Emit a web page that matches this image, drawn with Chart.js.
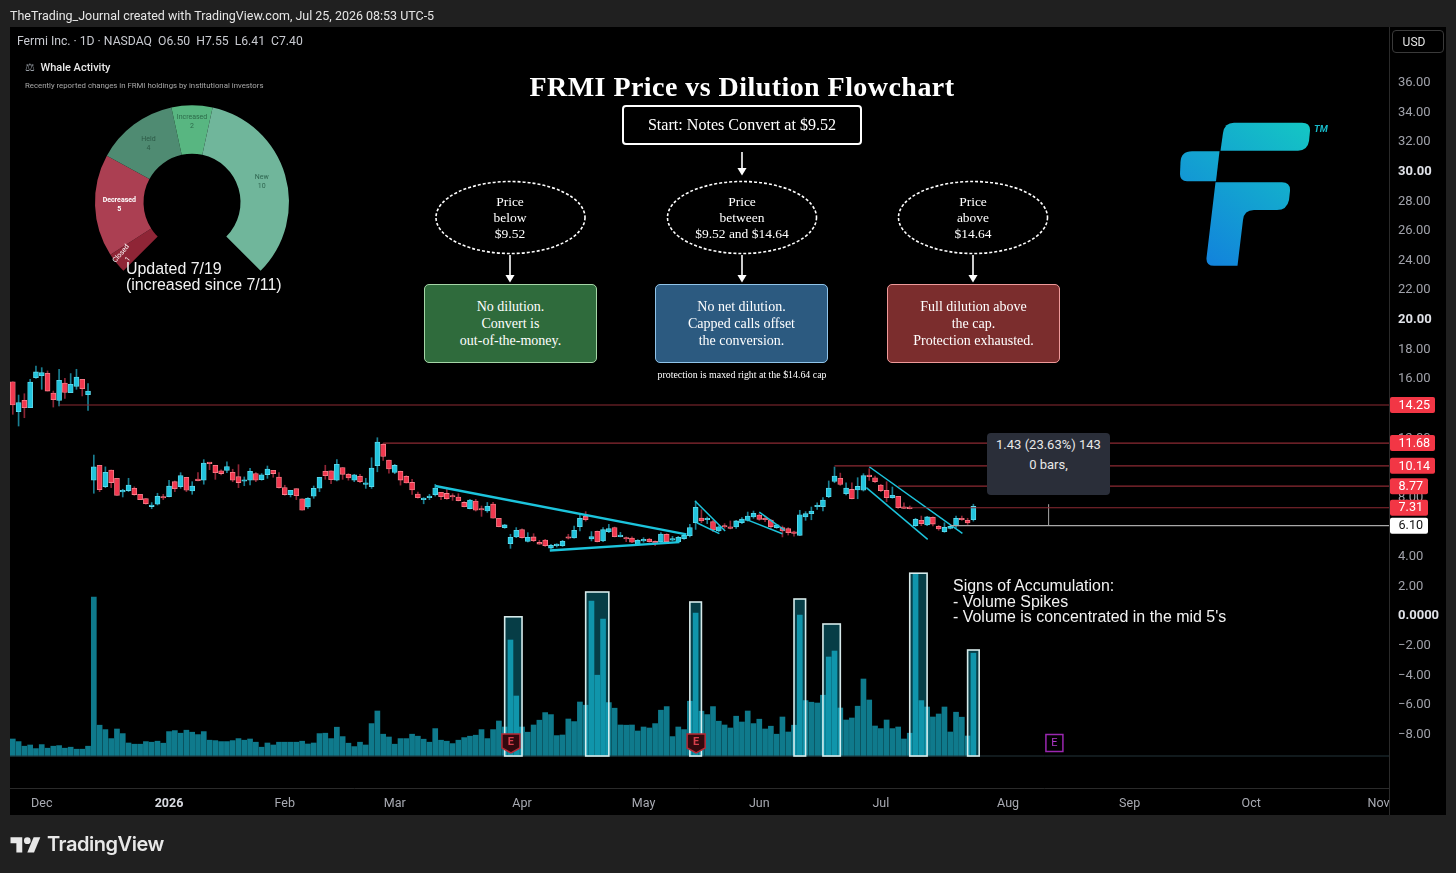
<!DOCTYPE html>
<html>
<head>
<meta charset="utf-8">
<title>FRMI Price vs Dilution Flowchart</title>
<script src="https://cdn.jsdelivr.net/npm/chart.js@4"></script>
<style>
html, body { margin: 0; padding: 0; background: #202020; width: 1456px; height: 873px; overflow: hidden; font-family: Roboto, sans-serif; color: #fff; }
#main { position: absolute; left: 0; top: 0; }
#whale { position: absolute; left: 82px; top: 78px; }
.abs { position: absolute; white-space: nowrap; }
.serif { font-family: "Liberation Serif", serif; text-align: center; }
.note { font-family: "Liberation Sans", sans-serif; font-size: 15.95px; line-height: 15.5px; }
.flowbox { position: absolute; box-sizing: border-box; width: 173px; height: 79px; top: 284px; border-radius: 5px; border: 1.5px solid; font-family: "Liberation Serif", serif; font-size: 14px; line-height: 17px; text-align: center; padding-top: 13px; }
.oval { position: absolute; box-sizing: border-box; width: 150px; height: 73px; top: 181px; font-family: "Liberation Serif", serif; font-size: 13.5px; line-height: 16px; text-align: center; padding-top: 13px; }
</style>
</head>
<body>
<canvas id="main" width="1456" height="873"></canvas>
<canvas id="whale" width="220" height="220"></canvas>

<div class="abs" style="left:10px;top:8px;font-size:12.47px;color:#e6e6e6">TheTrading_Journal created with TradingView.com, Jul 25, 2026 08:53 UTC-5</div>
<div class="abs" style="left:17px;top:34px;font-size:12.2px;color:#c8cad0">Fermi Inc. · 1D · NASDAQ &nbsp;O6.50 &nbsp;H7.55 &nbsp;L6.41 &nbsp;C7.40</div>
<div class="abs" style="left:1392px;top:30px;width:52px;height:23px;box-sizing:border-box;border:1px solid #3a3a3a;border-radius:4px;font-size:12px;line-height:22px;text-align:center;padding-right:8px;color:#e4e4e4">USD</div>

<div class="abs" style="left:25px;top:61px;font-size:11px;font-weight:500;color:#e8e8e8"><span style="color:#9aa0a8">⚖</span>&nbsp; Whale Activity</div>
<div class="abs" style="left:25px;top:81px;font-size:7.8px;color:#a8a8a8">Recently reported changes in FRMI holdings by institutional investors</div>
<div class="abs note" style="left:126px;top:261px;color:#f2f2f2">Updated 7/19<br>(increased since 7/11)</div>

<div class="abs serif" style="left:442px;width:600px;top:71px;font-size:28px;font-weight:bold;letter-spacing:0.45px">FRMI Price vs Dilution Flowchart</div>
<div class="abs serif" style="left:622px;top:105px;width:240px;height:40px;box-sizing:border-box;border:2px solid #fff;border-radius:4px;font-size:16.1px;line-height:35px">Start: Notes Convert at $9.52</div>

<div class="oval" style="left:435px">Price<br>below<br>$9.52</div>
<div class="oval" style="left:667px">Price<br>between<br>$9.52 and $14.64</div>
<div class="oval" style="left:898px">Price<br>above<br>$14.64</div>

<div class="flowbox" style="left:424px;background:#2f6b3c;border-color:#a5d6a7">No dilution.<br>Convert is<br>out-of-the-money.</div>
<div class="flowbox" style="left:655px;background:#2c5a80;border-color:#90c4ea">No net dilution.<br>Capped calls offset<br>the conversion.</div>
<div class="flowbox" style="left:887px;background:#7b2d2d;border-color:#ef9a9a">Full dilution above<br>the cap.<br>Protection exhausted.</div>
<div class="abs serif" style="left:592px;width:300px;top:369px;font-size:9.9px">protection is maxed right at the $14.64 cap</div>

<svg class="abs" style="left:0;top:0" width="1456" height="873">
  <defs>
    <linearGradient id="fgrad" gradientUnits="userSpaceOnUse" x1="1205" y1="265" x2="1310" y2="125">
      <stop offset="0" stop-color="#1282dc"/>
      <stop offset="1" stop-color="#14c6c4"/>
    </linearGradient>
    <marker id="head" markerWidth="6" markerHeight="6" refX="4" refY="3" orient="auto">
      <path d="M0,0 L5,3 L0,6 Z" fill="#fff"/>
    </marker>
  </defs>
  <g fill="none" stroke="#fff" stroke-width="1.6" stroke-dasharray="3 2">
    <ellipse cx="510.5" cy="217.5" rx="74.5" ry="36"/>
    <ellipse cx="742" cy="217.5" rx="74.5" ry="36"/>
    <ellipse cx="973" cy="217.5" rx="74.5" ry="36"/>
  </g>
  <g stroke="#fff" stroke-width="1.6" marker-end="url(#head)">
    <line x1="742" y1="152" x2="742" y2="174"/>
    <line x1="510" y1="255" x2="510" y2="281"/>
    <line x1="742" y1="255" x2="742" y2="281"/>
    <line x1="973" y1="255" x2="973" y2="281"/>
  </g>
  <g fill="url(#fgrad)">
    <path d="M1220.5 150.7 L1223 133 Q1224.5 122.7 1234 122.7 L1302 122.7 Q1310.5 122.7 1310 131 L1309 141 Q1307.5 150.7 1298 150.7 Z"/>
    <path d="M1219.5 151.3 L1216 181.3 L1187 181.3 Q1180 181.3 1180 174 L1180.5 162 Q1181 151.3 1192 151.3 Z"/>
    <path d="M1215.5 182.3 L1282 182.3 Q1290.5 182.3 1290 191 L1289 200 Q1287 210 1277 210 L1254 210 Q1244 210 1243 220 L1237.5 265.7 L1214 265.7 Q1206 265.7 1206.5 258 Z"/>
  </g>
  <text x="1314" y="132" font-family="Roboto" font-size="9.5" font-weight="700" font-style="italic" fill="#17b9c8">TM</text>
  <g transform="translate(10.5,834) scale(0.84)" fill="#e8e8e8">
    <path d="M14 22H7V11H0V4h14v18z"/>
    <path d="M28 22h-8l7.5-18h8L28 22z"/>
    <circle cx="20" cy="8" r="4"/>
  </g>
  <text x="47" y="851" font-family="Inter" font-size="20" font-weight="600" letter-spacing="-0.45" fill="#e8e8e8">TradingView</text>
</svg>

<div class="abs" style="left:987px;top:433px;width:123px;height:62px;background:#2a2e39;border-radius:4px;font-size:13px;text-align:center;color:#e8e8e8;line-height:20px;padding-top:2px;box-sizing:border-box">1.43 (23.63%) 143<br>0 bars,</div>
<div class="abs note" style="left:953px;top:578px;color:#f2f2f2">Signs of Accumulation:<br>- Volume Spikes<br>- Volume is concentrated in the mid 5's</div>

<script>
// --- Daily bars (bar 0 = late Nov 2025, bar 166 = Jul 24 2026) ---
const opens = [15.82,13.80,14.56,14.07,16.09,16.23,16.39,15.06,14.56,15.73,15.08,15.51,15.98,14.95,9.17,10.18,8.74,9.86,9.30,8.38,8.47,8.63,8.22,7.93,7.39,7.55,8.04,8.06,9.07,8.74,9.37,8.45,9.19,9.17,10.33,10.18,9.80,9.84,9.70,9.41,9.10,9.17,9.62,9.21,9.55,9.84,9.39,8.67,8.20,8.60,7.91,7.37,8.09,8.63,9.77,9.80,9.17,10.02,9.57,9.17,9.44,8.89,8.73,10.15,11.59,10.53,9.70,9.77,9.43,9.02,8.24,7.86,7.99,8.19,8.35,8.28,8.08,8.04,7.67,7.25,7.77,7.20,7.09,7.56,6.60,5.97,4.88,5.34,5.83,5.04,5.34,4.98,5.13,4.59,4.75,4.75,5.29,5.27,6.03,6.73,5.20,5.72,5.07,5.70,5.97,5.36,5.25,5.27,4.84,5.07,5.20,5.04,5.00,5.52,5.13,5.02,5.22,5.43,6.30,6.62,6.50,6.37,5.74,6.06,6.01,6.01,6.30,6.46,6.69,6.82,6.57,6.48,5.97,5.97,5.90,5.65,5.45,6.69,6.91,7.38,7.38,8.06,9.09,9.30,8.26,8.55,8.51,8.49,9.48,9.34,8.85,8.49,7.99,8.08,7.34,7.32,6.10,6.46,6.15,6.66,6.06,5.70,5.92,6.08,6.55,6.46,6.50];
const highs = [15.82,14.92,15.01,15.98,16.88,16.77,16.55,15.19,16.66,16.05,16.37,16.66,15.98,15.69,10.87,10.18,10.07,9.86,9.30,8.56,9.30,8.72,8.22,7.93,7.66,8.29,8.22,9.17,9.12,9.68,9.37,9.07,9.68,10.56,10.33,10.18,9.88,10.42,9.91,10.22,9.39,9.97,9.68,9.62,10.13,9.84,9.68,8.83,8.49,8.60,7.91,7.99,8.78,9.37,10.18,9.80,10.56,10.02,9.62,9.57,9.57,9.30,10.69,12.04,11.64,10.53,10.24,9.79,9.48,9.23,8.37,7.99,8.22,8.89,8.35,8.55,8.26,8.26,7.72,7.88,7.88,7.43,7.67,7.67,6.60,6.19,5.52,5.97,5.88,5.63,5.56,5.11,5.18,4.84,4.88,5.11,5.52,6.08,6.87,7.05,5.70,5.74,5.97,6.19,6.01,5.65,5.34,5.34,5.16,5.29,5.25,5.07,5.63,5.56,5.38,5.38,5.52,6.19,7.77,7.18,6.69,6.46,6.08,6.24,6.42,6.46,6.64,7.02,7.09,6.91,6.75,6.53,6.19,6.08,5.97,5.74,7.14,7.05,7.36,7.65,7.99,9.12,10.06,9.65,9.00,9.00,9.34,9.61,9.95,9.45,8.89,9.07,8.71,8.08,7.65,7.43,6.60,6.75,6.73,6.69,6.12,6.30,6.10,6.75,6.75,6.60,7.55];
const lows = [13.62,12.83,13.39,14.07,16.05,15.31,15.19,14.11,14.18,14.70,15.08,15.31,14.86,13.89,8.29,8.40,8.67,8.67,8.15,8.04,8.40,8.15,7.86,7.55,7.25,7.50,7.86,8.04,8.40,8.63,8.40,8.22,9.12,8.90,9.88,9.23,9.53,9.68,9.07,8.67,8.80,8.85,9.07,9.17,9.30,9.37,8.63,8.15,8.04,7.86,7.14,7.27,7.95,8.40,9.23,8.94,9.12,9.23,9.17,9.07,9.01,8.62,8.62,9.74,10.51,9.65,9.61,8.84,8.98,8.21,7.95,7.58,7.86,8.10,7.86,7.88,7.81,7.77,7.36,7.24,7.09,6.73,7.00,6.60,6.01,5.92,4.57,5.29,5.25,5.00,5.02,4.84,4.70,4.55,4.66,4.70,5.20,5.25,5.74,6.41,5.07,5.00,5.02,5.63,5.34,5.34,5.02,4.95,4.80,4.98,4.98,4.75,4.95,4.98,5.07,4.98,5.18,5.34,5.85,6.30,6.24,5.70,5.70,5.92,5.88,5.92,6.24,6.41,6.60,6.46,6.37,5.92,5.92,5.34,5.47,5.40,5.43,6.46,6.50,7.20,7.09,7.99,9.00,8.82,8.17,7.90,7.92,8.44,9.16,9.00,8.40,7.72,7.95,7.27,7.27,7.23,6.05,6.10,6.10,6.08,5.79,5.65,5.88,5.97,6.46,6.19,6.41];
const closes = [14.25,14.41,14.07,15.80,16.48,16.43,15.19,14.61,15.91,15.10,15.64,16.14,15.35,15.19,10.07,8.53,9.70,9.01,8.15,8.45,8.85,8.20,7.86,7.59,7.50,8.09,7.97,8.78,8.60,9.48,8.49,8.78,9.14,10.33,10.29,9.68,9.62,10.09,9.17,9.01,9.19,9.77,9.17,9.53,9.93,9.62,8.67,8.20,8.49,8.13,7.14,7.95,8.63,9.37,9.48,9.21,10.24,9.57,9.32,9.53,9.07,8.98,9.99,11.75,10.78,9.93,10.17,9.18,8.98,8.51,7.99,7.95,8.04,8.64,8.06,7.92,8.04,7.79,7.38,7.83,7.14,7.16,7.41,6.60,6.03,6.15,5.31,5.79,5.29,5.31,5.09,4.86,4.75,4.77,4.82,5.04,5.25,5.79,6.60,6.50,5.36,5.02,5.83,5.90,5.36,5.40,5.20,4.98,5.11,5.13,5.02,4.88,5.54,5.02,5.18,5.31,5.45,5.97,7.34,6.42,6.57,5.81,6.03,6.01,5.92,6.42,6.55,6.75,6.93,6.53,6.50,6.03,6.15,5.74,5.63,5.58,6.84,6.91,7.09,7.45,7.83,8.64,9.45,8.89,8.64,7.92,8.75,9.48,9.41,9.07,8.46,7.99,8.15,7.32,7.27,7.25,6.53,6.24,6.69,6.21,5.88,5.99,6.06,6.60,6.50,6.28,7.40];
// shares traded, in millions
const volumes = [8.5,7.2,4.9,5.5,3.7,5.7,3.9,4.9,5.2,3.9,4.4,3.4,3.4,4.9,79.5,15.4,13.2,8.7,13.5,11.2,6.5,5.9,5.9,7.2,6.9,7.4,6.4,12.2,12.7,11.4,12.9,11.9,10.7,12.2,7.9,7.7,7.2,7.2,7.7,8.7,7.9,8.5,6.9,4.4,6.5,5.5,6.9,6.9,6.9,6.9,7.4,6,6.5,11.2,11.4,8.7,14.4,9.7,6.4,4.7,6.9,5.5,16.2,22.5,10.9,9.5,5.9,8.7,8.7,10.9,9.9,8.4,6.9,13.7,7.9,7.4,6.2,7.9,9.2,9.9,10.4,13.2,8.7,13.2,17.5,14.5,58,30,14.5,11.9,15.5,17.9,21.7,20.7,10.2,10.5,18.5,17.2,27,25.4,77.4,40.4,68.4,26.7,23.9,15.5,15.4,15.5,12.5,14.5,14,16.2,22.9,24.7,9.7,14.5,13.2,27.4,71.4,22.4,20.7,24.7,17.4,15.5,14,19.9,17,22.5,16.2,18.4,13.5,14.9,10.9,19.5,12,15.4,70.5,27.7,26.9,26.5,30.4,49.5,52.5,24,18,19,24.9,38.5,28,15,13.7,18,13.7,14.5,8.5,11.4,91,27.7,24.5,19.5,21,24.5,12,21.9,19.4,10,51.4];

// --- Axes ---
const priceTicks = [36,34,32,30,28,26,24,22,20,18,16,14,12,10,8,6,4,2,0,-2,-4,-6,-8];
const boldPrices = [30,20,0];
const monthBars = [5,27,47,66,88,109,129,150,172,193,214,236];
const monthLabels = ['Dec','2026','Feb','Mar','Apr','May','Jun','Jul','Aug','Sep','Oct','Nov'];

// --- Drawings on the chart ---
const levelPrices = [14.25,11.68,10.14,8.77,7.31];
const levelStart = [8,64,142,153,155];
const lastPrice = 6.10;
const lastStart = 162;
const measureBar = 179;
const measureTop = 7.55;
// [bar, price, bar, price]
const trendLines = [[73,8.78,116.4,5.51],[92.8,4.43,115.2,4.99]];
const flagLines = [[117.9,7.77,123.1,5.74],[118.2,6.30,122.1,5.56],[129,7.02,133.4,5.79],[126.7,6.53,133,5.56],[148,10.08,164.1,5.58],[147.5,8.67,158.1,5.18]];
const spikeStart = [85,99,117,135,140,155,165];
const spikeEnd = [88,103,119,137,143,158,167];
const spikeTop = [69.6,82,77,78.5,66,91.4,53];
const pastEarnings = [86,118];
const nextEarnings = [180];

// --- Whale Activity ---
const whaleLabels = ['Closed','Decreased','Held','Increased','New'];
const whaleCounts = [1,5,4,2,10];
const whaleColors = ['#8f2536','#ab3f52','#4f8b72','#58b681','#70b69b'];
const whaleText = ['#fff','#fff','#2d5a47','#2d6b4a','#2f6650'];

const barIdx = closes.map((c, i) => i);
const isUp = i => closes[i] >= opens[i];
const isBoldMonth = c => c.tick && monthLabels[monthBars.indexOf(c.tick.value)] === '2026';
const isBoldPrice = c => c.tick && boldPrices.includes(c.tick.value);

const lineSet = (pts, color, width) => ({
    type: 'line',
    data: pts,
    borderColor: color,
    borderWidth: width,
    pointRadius: 0,
    order: 0,
    xAxisID: 'x',
    yAxisID: 'y'
});

const datasets = [];
// volume first, candles on top
datasets.push({
    data: barIdx.map(i => ({ x: i, y: volumes[i] })),
    backgroundColor: '#0f7a8c',
    barThickness: 5,
    yAxisID: 'yVol',
    order: 5
});
datasets.push({
    data: barIdx.map(i => ({ x: i, y: [lows[i], highs[i]] })),
    backgroundColor: c => isUp(c.dataIndex) ? '#1a7f92' : '#8c2535',
    barThickness: 1,
    yAxisID: 'y',
    order: 4
});
datasets.push({
    data: barIdx.map(i => ({ x: i, y: [opens[i], closes[i]] })),
    backgroundColor: c => isUp(c.dataIndex) ? '#22c4dd' : '#f0384f',
    borderColor: c => isUp(c.dataIndex) ? '#63dbec' : '#f8838f',
    borderWidth: 0.8,
    borderSkipped: false,
    minBarLength: 1.5,
    barThickness: 5,
    yAxisID: 'y',
    order: 3
});
datasets.push(Object.assign(lineSet([{ x: -1, y: 0 }, { x: 238, y: 0 }], '#23343a', 1), { yAxisID: 'yVol' }));
levelPrices.forEach((p, n) => {
    datasets.push(lineSet([{ x: levelStart[n], y: p }, { x: 238, y: p }], '#8c2a33', 1.2));
});
datasets.push(lineSet([{ x: lastStart, y: lastPrice }, { x: 238, y: lastPrice }], '#a8a8a8', 1.2));
datasets.push(lineSet([{ x: measureBar, y: lastPrice }, { x: measureBar, y: measureTop }], '#a8a8a8', 1));
trendLines.forEach(t => {
    datasets.push(lineSet([{ x: t[0], y: t[1] }, { x: t[2], y: t[3] }], '#1cc4dc', 2.4));
});
flagLines.forEach(t => {
    datasets.push(lineSet([{ x: t[0], y: t[1] }, { x: t[2], y: t[3] }], '#1cc4dc', 1.5));
});

// black panel and separators under everything
const panelPlugin = {
    id: 'panel',
    beforeDraw(chart) {
        const ctx = chart.ctx;
        const a = chart.chartArea;
        ctx.save();
        ctx.fillStyle = '#000';
        ctx.fillRect(a.left, a.top, 1446 - a.left, 815 - a.top);
        ctx.strokeStyle = '#2a2a2a';
        ctx.lineWidth = 1;
        ctx.beginPath();
        ctx.moveTo(a.left, a.bottom + 0.5);
        ctx.lineTo(a.right, a.bottom + 0.5);
        ctx.moveTo(a.right + 0.5, a.top);
        ctx.lineTo(a.right + 0.5, 815);
        ctx.stroke();
        ctx.restore();
    }
};

const drawShield = (ctx, x, y) => {
    ctx.beginPath();
    ctx.moveTo(x - 9, y - 9);
    ctx.lineTo(x + 9, y - 9);
    ctx.lineTo(x + 9, y + 5);
    ctx.lineTo(x, y + 10);
    ctx.lineTo(x - 9, y + 5);
    ctx.closePath();
    ctx.fillStyle = '#33090e';
    ctx.fill();
    ctx.strokeStyle = '#b62b37';
    ctx.lineWidth = 1.5;
    ctx.stroke();
};

// spike boxes, earnings flags and the price labels on the scale
const overlayPlugin = {
    id: 'overlay',
    afterDatasetsDraw(chart) {
        const ctx = chart.ctx;
        const { x, y, yVol } = chart.scales;
        ctx.save();
        spikeStart.forEach((s, n) => {
            const left = x.getPixelForValue(s);
            const right = x.getPixelForValue(spikeEnd[n]);
            const top = yVol.getPixelForValue(spikeTop[n]);
            const base = yVol.getPixelForValue(0);
            ctx.fillStyle = 'rgba(20,220,250,0.28)';
            ctx.fillRect(left, top, right - left, base - top);
            ctx.strokeStyle = 'rgba(225,245,245,0.95)';
            ctx.lineWidth = 1.6;
            ctx.strokeRect(left, top, right - left, base - top);
        });
        ctx.textAlign = 'center';
        ctx.textBaseline = 'middle';
        const flagY = 743;
        pastEarnings.forEach(b => {
            const px = x.getPixelForValue(b) + 0.5;
            drawShield(ctx, px, flagY);
            ctx.fillStyle = '#d8404c';
            ctx.font = 'bold 11px Roboto';
            ctx.fillText('E', px, flagY - 1);
        });
        nextEarnings.forEach(b => {
            const px = x.getPixelForValue(b);
            ctx.strokeStyle = '#9a27b0';
            ctx.lineWidth = 1.5;
            ctx.strokeRect(px - 8.5, flagY - 8.5, 17, 17);
            ctx.fillStyle = '#b038c8';
            ctx.font = '11px Roboto';
            ctx.fillText('E', px, flagY);
        });

        const tag = (price, width, fill, ink) => {
            const py = y.getPixelForValue(price);
            ctx.fillStyle = fill;
            ctx.beginPath();
            ctx.roundRect(1390, py - 8, width, 16, 2);
            ctx.fill();
            ctx.fillStyle = ink;
            ctx.font = '12.6px Roboto';
            ctx.textAlign = 'left';
            ctx.fillText(price.toFixed(2), 1398.5, py + 0.5);
        };
        levelPrices.forEach(p => tag(p, p >= 10 ? 45 : 38, '#f23645', '#fff'));
        tag(lastPrice, 38, '#fff', '#111');
        ctx.restore();
    }
};

new Chart(document.getElementById('main'), {
    type: 'bar',
    data: { datasets },
    plugins: [panelPlugin, overlayPlugin],
    options: {
        responsive: false,
        animation: false,
        events: [],
        layout: { padding: { left: 10, right: 12, top: 27, bottom: 58 } },
        datasets: { bar: { grouped: false } },
        plugins: { legend: { display: false }, tooltip: { enabled: false } },
        scales: {
            x: {
                type: 'linear',
                offset: false,
                min: -0.484,
                max: 237.82,
                grid: { display: false },
                border: { display: false },
                afterBuildTicks: s => { s.ticks = monthBars.map(v => ({ value: v })); },
                afterFit: s => { s.height = 27; },
                ticks: {
                    autoSkip: false,
                    maxRotation: 0,
                    padding: 0,
                    color: c => isBoldMonth(c) ? '#d8dae0' : '#a8aab2',
                    font: c => ({ family: 'Roboto', size: 12.5, weight: isBoldMonth(c) ? 'bold' : 'normal' }),
                    callback: v => monthLabels[monthBars.indexOf(v)]
                }
            },
            y: {
                position: 'right',
                min: -11.61,
                max: 39.77,
                grid: { display: false },
                border: { display: false },
                afterBuildTicks: s => { s.ticks = priceTicks.map(v => ({ value: v })); },
                afterFit: s => { s.width = 55; },
                ticks: {
                    autoSkip: false,
                    padding: 1,
                    color: c => isBoldPrice(c) ? '#e0e2e8' : '#a0a2aa',
                    font: c => ({ family: 'Roboto', size: 13, weight: isBoldPrice(c) ? 'bold' : 'normal' }),
                    callback: v => v === 0 ? '0.0000' : (v < 0 ? '\u2212' + Math.abs(v).toFixed(2) : v.toFixed(2))
                }
            },
            yVol: { display: false, min: -16, max: 364.5 }
        }
    }
});

// slice captions for the whale doughnut, two of them sit nearer the rim
const whaleLabelPlugin = {
    id: 'whaleLabels',
    afterDatasetsDraw(chart) {
        const ctx = chart.ctx;
        const pushOut = [1.19, 1, 1, 1.1, 1];
        chart.getDatasetMeta(0).data.forEach((arc, i) => {
            const p = arc.getCenterPoint();
            ctx.save();
            ctx.translate(arc.x + (p.x - arc.x) * pushOut[i], arc.y + (p.y - arc.y) * pushOut[i]);
            if (i === 0) ctx.rotate(-Math.PI / 3.6);
            ctx.fillStyle = whaleText[i];
            ctx.font = (i === 1 ? 'bold ' : '') + '7px Roboto';
            ctx.textAlign = 'center';
            ctx.textBaseline = 'middle';
            ctx.fillText(whaleLabels[i], 0, -4.5);
            ctx.fillText(String(whaleCounts[i]), 0, 4.5);
            ctx.restore();
        });
    }
};

new Chart(document.getElementById('whale'), {
    type: 'doughnut',
    data: {
        labels: whaleLabels,
        datasets: [{ data: whaleCounts, backgroundColor: whaleColors, borderWidth: 0 }]
    },
    plugins: [whaleLabelPlugin],
    options: {
        responsive: false,
        animation: false,
        events: [],
        rotation: -135,
        circumference: 270,
        radius: 97,
        cutout: '50%',
        plugins: { legend: { display: false }, tooltip: { enabled: false } }
    }
});
</script>
</body>
</html>
